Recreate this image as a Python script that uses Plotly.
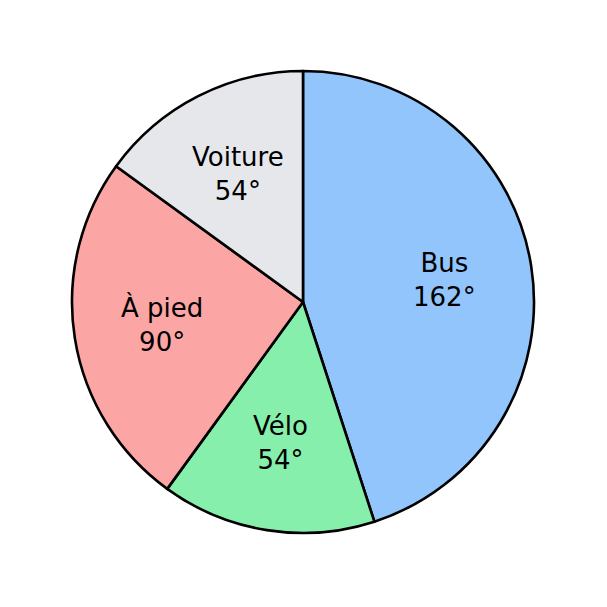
import numpy as np
import plotly.graph_objects as go

# transport modes and their angles (degrees)
labels = ["Bus", "Vélo", "À pied", "Voiture"]
angles = [162, 54, 90, 54]
colors = ["#93C5FD", "#86EFAC", "#FCA5A5", "#E5E7EB"]

W = 607
off = 8  # page body margin in the browser
cx, cy, R = 303 - off, 302 - off, 231  # pie center and radius in figure pixels

fig = go.Figure(go.Pie(
    labels=labels,
    values=angles,
    sort=False,
    direction="clockwise",
    rotation=0,
    textinfo="none",
    hoverinfo="label+value",
    marker=dict(colors=colors, line=dict(color="black", width=2.6)),
    domain=dict(x=[(cx - R) / W, (cx + R) / W],
                y=[1 - (cy + R) / W, 1 - (cy - R) / W]),
    showlegend=False,
))

# labels placed at mid-angle of each slice, like matplotlib's labeldistance
start = 0
annotations = []
for lab, a in zip(labels, angles):
    mid = start + a / 2
    start += a
    theta = np.radians(90 - mid)
    x = cx + 0.62 * R * np.cos(theta)
    y = cy - 0.62 * R * np.sin(theta)
    annotations.append(dict(
        x=x / W, y=1 - y / W, xref="paper", yref="paper",
        text=f"{lab}<br>{a}°", showarrow=False,
        font=dict(family="DejaVu Sans", size=26, color="black"),
        xanchor="center", yanchor="middle",
    ))

fig.update_layout(
    width=W, height=W,
    margin=dict(l=0, r=0, t=0, b=0),
    paper_bgcolor="white",
    plot_bgcolor="white",
    annotations=annotations,
)

fig.write_html("out.html")
